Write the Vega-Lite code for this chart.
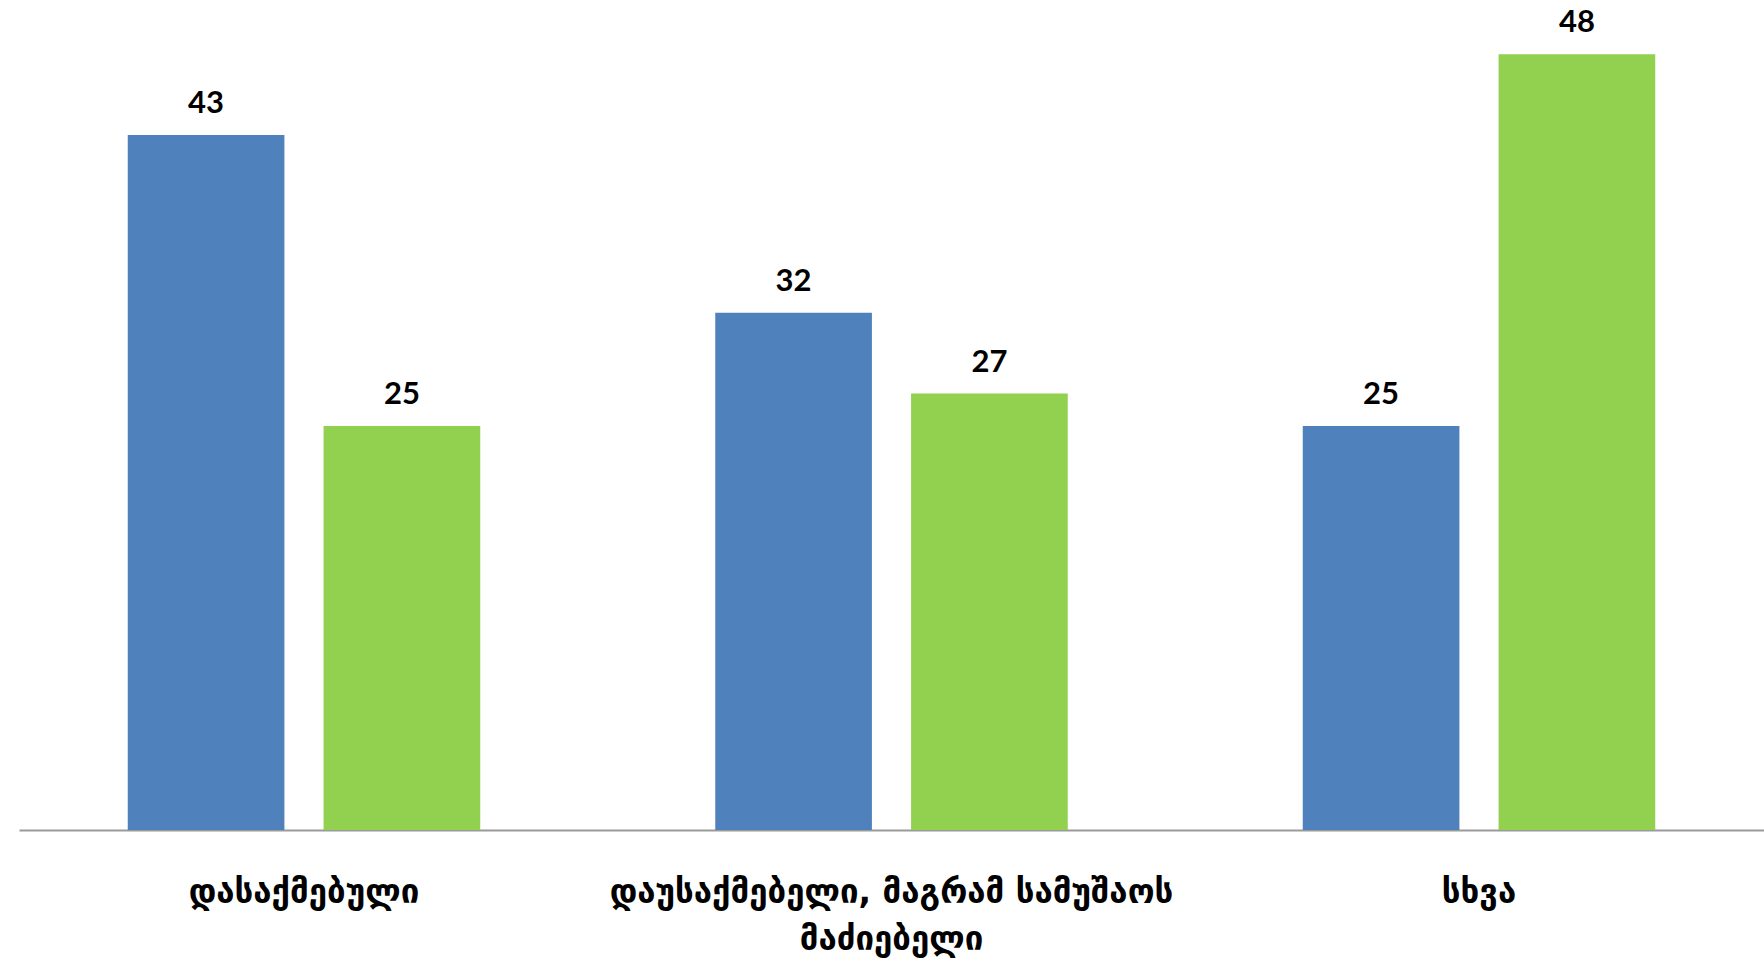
{
  "$schema": "https://vega.github.io/schema/vega-lite/v6.json",
  "autosize": "none",
  "padding": {"left": 19, "top": 0, "right": 0, "bottom": 133},
  "width": 1745,
  "height": 830,
  "background": "white",
  "data": {
    "values": [
      {"category": "დასაქმებული", "series": "Series 1", "value": 43},
      {"category": "დასაქმებული", "series": "Series 2", "value": 25},
      {"category": "დაუსაქმებელი, მაგრამ სამუშაოს მაძიებელი", "series": "Series 1", "value": 32},
      {"category": "დაუსაქმებელი, მაგრამ სამუშაოს მაძიებელი", "series": "Series 2", "value": 27},
      {"category": "სხვა", "series": "Series 1", "value": 25},
      {"category": "სხვა", "series": "Series 2", "value": 48}
    ]
  },
  "encoding": {
    "x": {
      "field": "category",
      "type": "nominal",
      "sort": null,
      "scale": {"paddingInner": 0.4, "paddingOuter": 0.1851},
      "axis": {
        "title": null,
        "labelAngle": 0,
        "ticks": false,
        "domainColor": "#9a9a9a",
        "domainWidth": 2,
        "labelFont": "DejaVu Sans",
        "labelFontWeight": "bold",
        "labelFontSize": 33,
        "labelColor": "#000000",
        "labelPadding": 46,
        "labelLineHeight": 47,
        "labelLimit": 0,
        "labelExpr": "datum.value == 'დაუსაქმებელი, მაგრამ სამუშაოს მაძიებელი' ? ['დაუსაქმებელი, მაგრამ სამუშაოს', 'მაძიებელი'] : datum.value"
      }
    },
    "xOffset": {
      "field": "series",
      "type": "nominal",
      "scale": {"paddingInner": 0.2, "paddingOuter": 0}
    },
    "y": {
      "field": "value",
      "type": "quantitative",
      "scale": {"domain": [0, 51.35], "nice": false, "zero": true},
      "axis": null
    }
  },
  "layer": [
    {
      "mark": {"type": "bar"},
      "encoding": {
        "color": {
          "field": "series",
          "type": "nominal",
          "scale": {"domain": ["Series 1", "Series 2"], "range": ["#4f81bd", "#92d050"]},
          "legend": null
        }
      }
    },
    {
      "mark": {
        "type": "text",
        "font": "Lato",
        "fontWeight": "bold",
        "fontSize": 31,
        "color": "#000000",
        "baseline": "alphabetic",
        "dy": -22
      },
      "encoding": {
        "text": {"field": "value", "type": "quantitative"}
      }
    }
  ],
  "config": {
    "view": {"stroke": null},
    "axis": {"grid": false}
  }
}
